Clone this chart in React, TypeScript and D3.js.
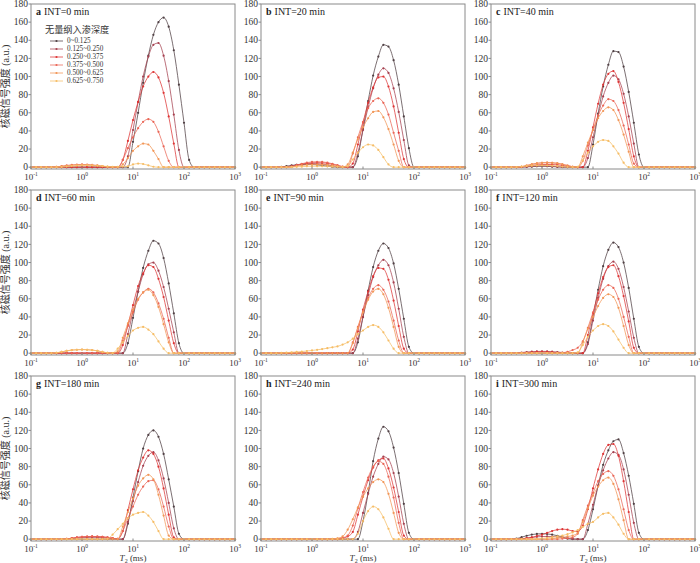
import * as d3 from 'd3';

// T2 relaxation times (ms), 10 points per decade from 0.1 to 1000
const T2_MS = [
  0.1, 0.126, 0.158, 0.2, 0.251, 0.316, 0.398, 0.501, 0.631, 0.794,
  1, 1.26, 1.58, 2, 2.51, 3.16, 3.98, 5.01, 6.31, 7.94,
  10, 12.6, 15.8, 20, 25.1, 31.6, 39.8, 50.1, 63.1, 79.4,
  100, 126, 158, 200, 251, 316, 398, 501, 631, 794, 1000,
];
// series below hold T2_MS[4] .. T2_MS[32]; the rest of the spectrum is 0
const WIN_START = 4;

const DEPTH_LABELS = ['0~0.125', '0.125~0.250', '0.250~0.375', '0.375~0.500', '0.500~0.625', '0.625~0.750'];
const SERIES_COLORS = ['#4f3f43', '#a5404f', '#dd3535', '#ea6656', '#f29656', '#f6bd66'];

const INT_0 = [
  [0,0,0,0,0,0,0,0,0,0,0,0,0,0,0,0,28,60,93,123,146,160,165,155,129,91,49,8,0],
  [0,0,0,0,0,0,0,0,0,0,0,0,0,0,0,12,41,72,100,122,135,137,123,95,58,19,0,0,0],
  [0,0,0,0,0,0,0,0,0,0,0,0,0,0,8,29,52,72,89,100,105,99,82,56,26,0,0,0,0],
  [0,0.3,1.1,1.9,2.6,2.9,3,2.9,2.6,1.9,1.1,0.3,0,0,8,21,33,43,50,53,50,39,23,7,0,0,0,0,0],
  [0,0.3,0.9,1.6,2.1,2.4,2.5,2.4,2.1,1.6,0.9,0.3,0,0,3,10,18,23,26,25,18,9,0,0,0,0,0,0,0],
  [0,0,0.2,0.7,1.3,1.7,1.9,2,1.9,1.7,1.3,0.7,0.5,0.5,0.7,1,3,4,3.5,2,0.5,0,0,0,0,0,0,0,0],
];
const INT_20 = [
  [0.3,1.1,1.9,2.6,2.9,3,2.9,2.6,1.9,1.1,0.3,0,0,0,0,12,42,73,101,122,135,133,118,91,56,21,0,0,0],
  [0,0.4,1.4,2.6,3.4,3.8,4,3.8,3.4,2.6,1.4,0.4,0,0,0,16,41,66,87,102,109,104,87,61,30,2,0,0,0],
  [0,0,0.5,1.8,3.2,4.3,4.8,5,4.8,4.3,3.2,1.8,0.5,0,4,25,49,71,88,99,100,89,67,38,9,0,0,0,0],
  [0,0,0.6,2.2,3.8,5.1,5.8,6,5.8,5.1,3.8,2.2,0.6,0,15,33,50,65,73,76,71,58,38,18,0,0,0,0,0],
  [0,0,0.3,1.1,1.9,2.6,2.9,3,2.9,2.6,1.9,1.1,0.3,3,16,31,44,54,61,62,55,42,25,7,0,0,0,0,0],
  [0,0,0.1,0.4,0.6,0.9,1,1,1,0.9,0.6,0.4,0.1,1,8.5,16,22,25,24,19,11,3,0,0,0,0,0,0,0],
];
const INT_40 = [
  [0,0,0.1,0.4,0.6,0.9,1,0.9,0.6,0.4,0.1,0,0,0,0,0,25,59,89,113,128,127,111,83,49,14,0,0,0],
  [0,0,0.2,0.5,1,1.4,1.5,1.4,1,0.5,0.2,0,0,0,0,10,33,57,78,93,101,97,81,56,26,0,0,0,0],
  [0,0,0.3,1.1,1.9,2.6,2.9,3,2.9,2.6,1.9,1.1,0.3,0,0,18,44,70,91,103,106,94,71,42,12,0,0,0,0],
  [0,0,0.5,1.8,3.2,4.3,4.8,5,4.8,4.3,3.2,1.8,0.5,0,7,24,41,57,68,75,73,63,46,25,4,0,0,0,0],
  [0,0,0.5,1.8,3.2,4.3,4.8,5,4.8,4.3,3.2,1.8,0.5,0,12,27,41,54,62,66,63,52,36,17,0,0,0,0,0],
  [0,0.2,0.7,1.3,1.7,1.9,2,1.9,1.7,1.3,0.7,0.2,0,0.5,7.5,16,23,28,30,29,23,15,5,0,0,0,0,0,0],
];
const INT_60 = [
  [0,0,0,0,0,0,0,0,0,0,0,0,0,0,0,11,39,68,94,113,124,121,105,77,44,11,0,0,0],
  [0,0,0,0,0,0,0,0,0,0,0,0,0,0,0,21,46,68,87,98,100,91,73,49,23,0,0,0,0],
  [0,0,0,0,0,0,0,0,0,0,0,0,0,0,9,31,53,74,88,97,95,82,62,36,11,0,0,0,0],
  [0,0,0,0,0,0,0,0,0,0,0,0,0,0,14,30,45,59,67,71,67,55,38,17,0,0,0,0,0],
  [0,0.4,1.4,2.6,3.4,3.8,4,3.8,3.4,2.6,1.4,0.4,0,2,17,33,48,60,67,70,64,51,32,12,0,0,0,0,0],
  [0,0.4,1.4,2.6,3.4,3.8,4,3.8,3.4,2.6,1.4,0.4,0,5,12,19,25,28,29,26,21,13,5,0,0,0,0,0,0],
];
const INT_90 = [
  [0,0,0,0,0,0,0,0,0,0,0,0,0,0,0,12,40,69,95,113,121,116,99,71,38,7,0,0,0],
  [0,0,0,0,0,0,0,0,0,0,0,0,0,0,0,16,40,64,84,97,103,97,78,49,18,0,0,0,0],
  [0,0,0,0,0,0,0,0,0,0,0,0,0,0,4,24,48,68,85,94,93,81,58,30,5,0,0,0,0],
  [0,0,0,0,0,0,0,0,0,0,0,0,0,0,12,29,46,61,71,75,70,57,36,14,0,0,0,0,0],
  [0,0,0,0,0,0,0,0,0,0,0,0,0,0,11,28,45,59,68,71,65,50,29,7,0,0,0,0,0],
  [0.3,0.6,1,1.4,1.8,2.4,3,3.7,4.5,5.5,6.5,7.5,9.5,12,16,21,25,29,31,29,23,14,5,0,0,0,0,0,0],
];
const INT_120 = [
  [0,0,0,0,0,0,0,0,0,0,0,0,0,0,0,12,40,70,96,114,122,117,100,72,38,7,0,0,0],
  [0,0.2,0.7,1.3,1.7,1.9,2,1.9,1.7,1.3,0.7,0.2,0,0,0,10,36,61,82,96,101,93,73,46,17,0,0,0,0],
  [0,0,0.2,0.5,1,1.4,1.5,1.4,1,0.5,0.2,0,0,0,0,20,44,66,84,95,97,85,63,35,6,0,0,0,0],
  [0,0,0,0,0,0,0,0,0,0,0.5,1.5,3.5,6,13,28,45,59,70,75,72,60,40,18,0,0,0,0,0],
  [0,0,0,0,0,0,0,0,0,0,0,0,0,0,12,27,40,52,61,65,62,50,30,9,0,0,0,0,0],
  [0,0,0,0,0,0,0,0,0,0,0,0,0,1,9,18,25,30,32,30,24,15,6,0,0,0,0,0,0],
];
const INT_180 = [
  [0,0,0,0,0,0,0,0,0,0,0,0,0,0,0,17,46,75,100,115,120,113,94,66,36,6,0,0,0],
  [0,0,0,0.2,0.7,1.3,1.7,1.9,2,1.9,1.7,1.3,0.7,0.2,0,19,42,63,81,92,96,87,67,40,12,0,0,0,0],
  [0,0,0,0.3,1.1,1.9,2.6,2.9,3,2.9,2.6,1.9,1.1,0.3,9,32,55,76,90,98,94,80,56,27,2,0,0,0,0],
  [0,0,0,0.3,1.1,1.9,2.6,2.9,3,2.9,2.6,1.9,1.1,0.3,9,23,36,49,58,64,65,55,36,14,0,0,0,0,0],
  [0,0,0,0,0,0,0,0,0,0,0,0,0,0,14,30,45,59,67,71,66,49,26,4,0,0,0,0,0],
  [0,0,0,0,0,0,0,0,0,0,0,0.5,5,11,17,23,27,29,30,26,19,9,0,0,0,0,0,0,0],
];
const INT_240 = [
  [0,0,0,0,0,0,0,0,0,0,0,0,0,0,0,0,20,51,86,111,124,119,101,73,39,7,0,0,0],
  [0,0,0,0,0,0,0,0,0,0,0,0,0,0,0,8,29,50,69,83,91,88,73,47,17,0,0,0,0],
  [0,0,0,0,0,0,0,0,0,0,0,0,1,3,8,27,47,65,79,87,89,78,57,30,4,0,0,0,0],
  [0,0,0,0,0,0,0,0,0,0,0,0.5,1.5,4,15,34,52,68,80,86,83,69,46,18,0,0,0,0,0],
  [0,0,0,0,0,0,0,0,0,0,0.3,1,3,10.5,22,35,47,56,63,66,63,50,29,7,0,0,0,0,0],
  [0,0,0,0,0,0,0,0,0,0,0,0,0,0,0,6,20,31,36,33,24,11.5,0,0,0,0,0,0,0],
];
const INT_300 = [
  [0,0.6,2.2,3.8,5.1,5.8,6,5.8,5.1,3.8,2.2,0.6,0,0,0,10,33,59,82,98,108,110,95,70,39,7,0,0,0],
  [0,0,0.3,1.1,1.9,2.6,2.9,3,2.9,2.6,1.9,1.1,0.3,0,0,17,38,59,76,89,96,93,77,49,18,0,0,0,0],
  [0,0,0.5,1.2,2,3.5,5,7,9,10.5,11,10.5,9,8.5,15,33,56,77,94,104,105,92,64,30,0,0,0,0,0],
  [0,0,0,0,0,0,0,0,0,0,0.5,1,2,6,21,37,51,64,72,75,70,55,33,10,0,0,0,0,0],
  [0,0,0,0,0,0,0,0,0.5,1.2,2,3,4,7,19,34,48,58,65,68,61,44,21,0,0,0,0,0,0],
  [0,0,0,0,0,0.3,0.8,1.5,2.2,3,4,5.5,7.5,10,13.5,17,19,24,28,29,24,16,6,0,0,0,0,0,0],
];

const PANEL_LETTERS = ['a', 'b', 'c', 'd', 'e', 'f', 'g', 'h', 'i'];
const PANEL_MINUTES = [0, 20, 40, 60, 90, 120, 180, 240, 300];
const PANEL_DATA = [INT_0, INT_20, INT_40, INT_60, INT_90, INT_120, INT_180, INT_240, INT_300];

const Y_TICKS = [0, 20, 40, 60, 80, 100, 120, 140, 160, 180];
const X_TICKS = [0.1, 1, 10, 100, 1000];
const X_TICK_EXP = ['-1', '0', '1', '2', '3'];

const PW = 204;
const PH = 165;
const COL_X = [31, 261, 491];
const ROW_Y = [4, 190, 376];

const SERIF = '"Liberation Serif", "Times New Roman", "Noto Sans CJK SC", serif';
const TEXT = '#333';
const FRAME = '#8a8a8a';

const x = d3.scaleLog().domain([0.1, 1000]).range([0, PW]);
const y = d3.scaleLinear().domain([-2, 180]).range([PH, 0]);

function fullSpectrum(win: number[]) {
  return T2_MS.map((t, i) => ({
    t,
    v: i >= WIN_START && i < WIN_START + win.length ? win[i - WIN_START] : 0,
  }));
}

const line = d3
  .line<{ t: number; v: number }>()
  .x((d) => x(d.t))
  .y((d) => y(d.v))
  .curve(d3.curveMonotoneX);

function Panel({ idx }: { idx: number }) {
  const col = idx % 3;
  const row = Math.floor(idx / 3);
  const series = PANEL_DATA[idx].map(fullSpectrum);

  return (
    <g transform={`translate(${COL_X[col]},${ROW_Y[row]})`}>
      {series.map((pts, s) => (
        <g key={s}>
          <path d={line(pts) ?? ''} fill="none" stroke={SERIES_COLORS[s]} strokeWidth={0.75} />
          {pts.map((p, k) => (
            <circle key={k} cx={x(p.t)} cy={y(p.v)} r={1.1} fill={SERIES_COLORS[s]} />
          ))}
        </g>
      ))}

      <rect x={0} y={0} width={PW} height={PH} fill="none" stroke={FRAME} strokeWidth={1} />

      {Y_TICKS.map((v) => (
        <g key={v} transform={`translate(0,${y(v)})`}>
          <line x1={-2.5} x2={0} stroke={FRAME} />
          <text x={-3} dy="0.33em" textAnchor="end" fontSize={9.5} fill={TEXT} fontFamily={SERIF}>
            {v}
          </text>
        </g>
      ))}

      {X_TICKS.map((t, k) => (
        <g key={t} transform={`translate(${x(t)},${PH})`}>
          <line y1={0} y2={-2.5} stroke={FRAME} />
          <text y={10.5} textAnchor="middle" fontSize={9} fill={TEXT} fontFamily={SERIF}>
            10
            <tspan dy={-3.5} fontSize={5.5}>
              {X_TICK_EXP[k]}
            </tspan>
          </text>
        </g>
      ))}

      <text x={5} y={10.5} fontSize={10} fill="#222" fontFamily={SERIF}>
        <tspan fontWeight="bold">{PANEL_LETTERS[idx]}</tspan>
        <tspan dx={3}>{`INT=${PANEL_MINUTES[idx]} min`}</tspan>
      </text>

      {col === 0 && (
        <text
          transform={`translate(-22,${PH / 2}) rotate(-90)`}
          textAnchor="middle"
          fontSize={10}
          fill={TEXT}
          fontFamily={SERIF}
        >
          核磁信号强度 (a.u.)
        </text>
      )}

      {row === 2 && (
        <text x={PW / 2} y={PH + 20} textAnchor="middle" fontSize={9} fill={TEXT} fontFamily={SERIF}>
          <tspan fontStyle="italic">T</tspan>
          <tspan fontSize={6} dy={1.5}>2</tspan>
          <tspan dy={-1.5}> (ms)</tspan>
        </text>
      )}

      {idx === 0 && (
        <g>
          <text x={14} y={29} fontSize={9.2} fill={TEXT} fontFamily={SERIF}>
            无量纲入渗深度
          </text>
          {DEPTH_LABELS.map((lab, s) => (
            <g key={lab} transform={`translate(19,${37 + s * 8})`}>
              <line x1={0} x2={13} stroke={SERIES_COLORS[s]} strokeWidth={0.75} />
              <circle cx={6.5} cy={0} r={1.1} fill={SERIES_COLORS[s]} />
              <text x={17} dy="0.33em" fontSize={7.2} fill={TEXT} fontFamily={SERIF}>
                {lab}
              </text>
            </g>
          ))}
        </g>
      )}
    </g>
  );
}

export default function App() {
  return (
    <svg
      width={700}
      height={563}
      viewBox="0 0 700 563"
      style={{ position: 'absolute', left: 0, top: 0, background: '#fff' }}
    >
      {PANEL_DATA.map((_, i) => (
        <Panel key={i} idx={i} />
      ))}
    </svg>
  );
}
